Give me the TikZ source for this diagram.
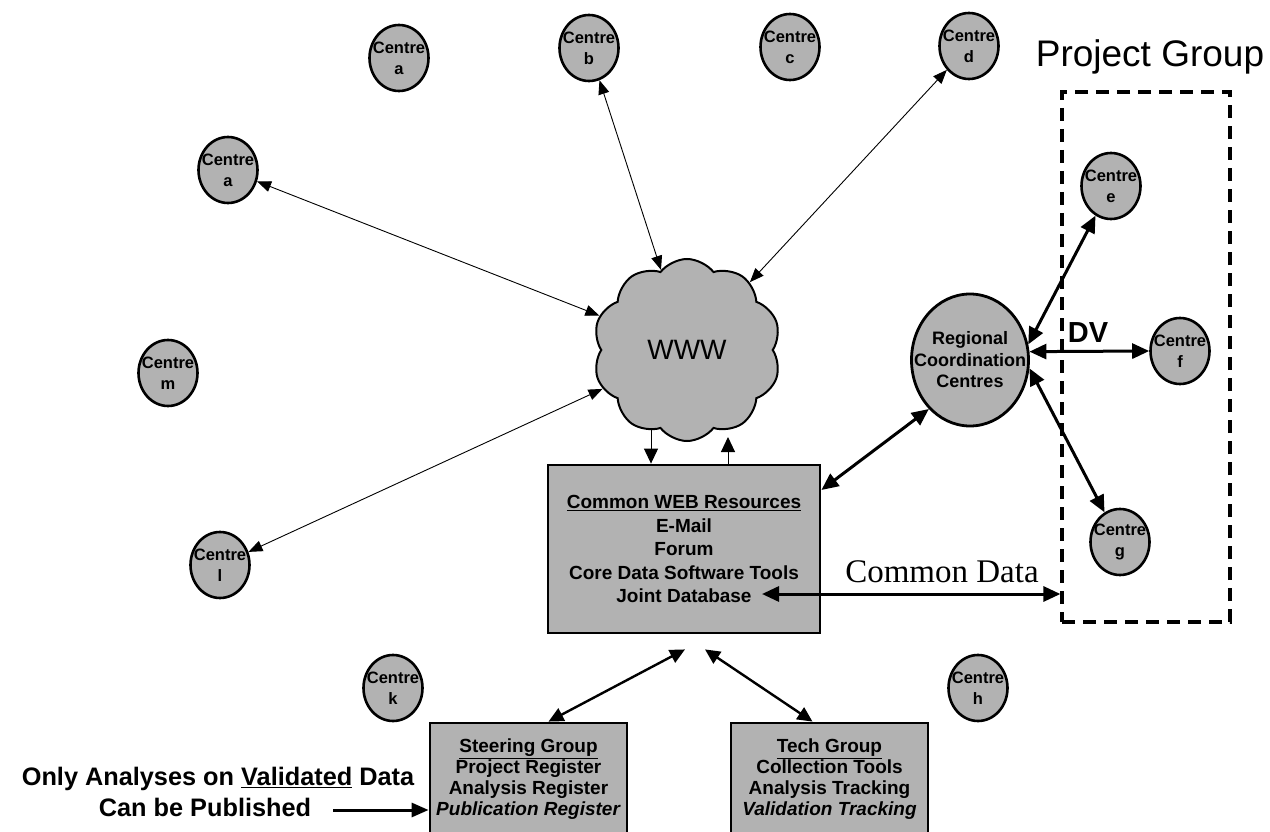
\documentclass[tikz,border=0pt]{standalone}
\usepackage{fontspec}
\setmainfont{Liberation Sans}
\newfontfamily\seriffam{Liberation Serif}
\usetikzlibrary{shapes.geometric,shapes.symbols,arrows.meta}
\definecolor{fillgray}{RGB}{178,178,178}
\begin{document}
\begin{tikzpicture}[x=1pt,y=-1pt,
  centre/.style={ellipse,draw,line width=2.6pt,fill=fillgray,minimum width=59pt,minimum height=66pt,inner xsep=-7pt,inner ysep=0pt,align=center,font=\fontsize{16.5}{21}\selectfont\bfseries},
  rccstyle/.style={ellipse,draw,line width=2.8pt,fill=fillgray,minimum width=117pt,minimum height=132pt,inner xsep=-16pt,inner ysep=0pt,align=center,font=\fontsize{18}{21.5}\selectfont\bfseries},
  box/.style={rectangle,draw,line width=2.8pt,fill=fillgray,align=center},
  thinarr/.style={line width=0.9pt,{Triangle[length=14pt,width=11pt]}-{Triangle[length=14pt,width=11pt]}},
  thickarr/.style={line width=3pt,{Triangle[length=17pt,width=15pt]}-{Triangle[length=17pt,width=15pt]}},
  midarr/.style={line width=2.4pt,{Triangle[length=15pt,width=14pt]}-{Triangle[length=15pt,width=14pt]}},
  onearr/.style={line width=1pt,-{Triangle[length=15pt,width=14pt]}},
]
\useasboundingbox (0,0) rectangle (1270,832);

% centres
\node[centre] (ca1) at (399,58) {Centre\\a};
\node[centre] (cb) at (589,48) {Centre\\b};
\node[centre] (cc) at (790,47) {Centre\\c};
\node[centre] (cd) at (969,46) {Centre\\d};
\node[centre] (ca2) at (228,170) {Centre\\a};
\node[centre] (cm) at (168,373) {Centre\\m};
\node[centre] (cl) at (220,565) {Centre\\l};
\node[centre] (ck) at (393,688) {Centre\\k};
\node[centre] (ch) at (978,688) {Centre\\h};
\node[centre] (ce) at (1111,186) {Centre\\e};
\node[centre] (cf) at (1180,351) {Centre\\f};
\node[centre] (cg) at (1120,542) {Centre\\g};

% regional coordination
\node[rccstyle] (rcc) at (970,360) {Regional\\Coordination\\Centres};

% cloud
\node[cloud,draw,line width=2pt,fill=fillgray,cloud puffs=10,cloud puff arc=105,minimum width=188pt,minimum height=182pt,aspect=1,font=\fontsize{28}{30}\selectfont] (www) at (687,350) {WWW};

% boxes
\node[box,minimum width=272pt,minimum height=168pt,font=\fontsize{19}{23.5}\selectfont\bfseries] (web) at (684,549)
  {\underline{Common WEB Resources}\\E-Mail\\Forum\\Core Data Software Tools\\Joint Database};
\node[box,minimum width=197pt,minimum height=112pt,font=\fontsize{19}{21}\selectfont\bfseries] (sg) at (528.5,779)
  {\underline{Steering Group}\\Project Register\\Analysis Register\\\textit{Publication Register}};
\node[box,minimum width=197pt,minimum height=112pt,font=\fontsize{19}{21}\selectfont\bfseries] (tech) at (829.5,779)
  {\underline{Tech Group}\\Collection Tools\\Analysis Tracking\\\textit{Validation Tracking}};

% project group
\node[draw,line width=3.2pt,dash pattern=on 13pt off 8pt,minimum width=168pt,minimum height=530pt] (pg) at (1146,357) {};
\node[font=\fontsize{37}{40}\selectfont] (pgl) at (1150,57) {Project Group};
\node[font=\fontsize{29}{30}\selectfont\bfseries] (dv) at (1088,333) {DV};
\node[font=\seriffam\fontsize{33}{36}\selectfont] (cdl) at (942,572) {Common Data};
\node[font=\fontsize{25.3}{31}\selectfont\bfseries,align=center] (note) at (218,792)
  {Only Analyses on \underline{Validated} Data\\Can be Published\hspace*{26pt}};

% connectors
\draw[thinarr] (www) -- (ca2);
\draw[thinarr] (www) -- (cb);
\draw[thinarr] (www) -- (cd);
\draw[thinarr] (www) -- (cl);
\coordinate (wd) at (651,430);
\coordinate (wu) at (728,437);
\draw[onearr] (wd) -- (wd |- web.north);
\draw[onearr] (wu |- web.north) -- (wu);
\draw[thickarr] ([yshift=59pt]web.east) -- (rcc.230);
\draw[thickarr] (rcc.15) -- (ce);
\draw[thickarr] (rcc.8) -- (cf.west);
\draw[thickarr] (rcc.352) -- (cg);
\coordinate (jd) at (762,594);
\draw[thickarr] (jd) -- (jd -| pg.west);
\draw[midarr] ([xshift=1pt,yshift=-15pt]web.south) -- ([xshift=20pt]sg.north);
\draw[midarr] ([xshift=21pt,yshift=-15pt]web.south) -- ([xshift=-17pt]tech.north);
\coordinate (ps) at (333,810);
\draw[line width=3pt,-{Triangle[length=17pt,width=14pt]}] (ps) -- (ps -| sg.west);
\end{tikzpicture}
\end{document}
